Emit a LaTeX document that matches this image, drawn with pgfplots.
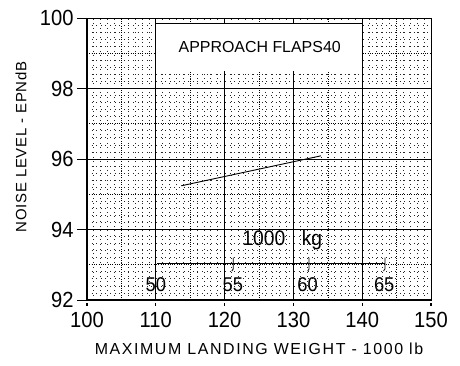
\documentclass[border=0pt]{standalone}
\usepackage{fontspec}
\setmainfont{Liberation Sans}
\newfontfamily\tickfont{Liberation Sans}[FakeStretch=0.92]
\usepackage{pgfplots}
\pgfplotsset{compat=1.18}
\begin{document}
\begin{tikzpicture}
\begin{axis}[
  width=344bp, height=282bp, scale only axis,
  xmin=100, xmax=150, ymin=92, ymax=100,
  clip=false,
  xtick={100,110,...,150}, ytick={92,94,...,100},
  minor x tick num=9, minor y tick num=9,
  extra x ticks={105,115,125,135,145}, extra x tick labels={},
  extra x tick style={grid=major, major grid style={black, line width=0.6bp, dash pattern=on 0.7bp off 1.6bp}, major tick length=0pt},
  extra y ticks={93,95,97,99}, extra y tick labels={},
  extra y tick style={grid=major, major grid style={black, line width=0.6bp, dash pattern=on 0.7bp off 1.6bp}, major tick length=0pt},
  grid=both,
  major grid style={black, line width=0.9bp},
  minor grid style={black!85, line width=0.8bp, dash pattern=on 0.8bp off 3.8bp},
  minor tick length=0pt,
  tick align=outside, tick pos=left,
  major tick length=10bp,
  xtick style={draw=none},
  ytick style={black, line width=0.8bp},
  axis line style={black, line width=0.9bp},
  /pgf/number format/assume math mode=true,
  ticklabel style={font=\tickfont\fontsize{22}{22}\selectfont},
  xticklabel style={yshift=1bp},
  xlabel={MAXIMUM LANDING WEIGHT - 1000 lb},
  xlabel style={font=\fontsize{16}{16}\selectfont\addfontfeature{LetterSpace=10}, at={([yshift=-49bp]rel axis cs:0.5,0)}, anchor=center},
  ylabel={NOISE LEVEL - EPNdB},
  ylabel style={font=\fontsize{15}{15}\selectfont\addfontfeature{LetterSpace=5}, at={([xshift=-66bp]rel axis cs:0,0.543)}, anchor=center},
]
\coordinate (SW) at (rel axis cs:0,0);
\coordinate (NE) at (rel axis cs:1,1);
% title box
\fill[white] (axis cs:110,98.5) rectangle (axis cs:140,99.84);
\draw[black, line width=0.9bp] (axis cs:110,99.84) -- (axis cs:140,99.84);
\draw[black, line width=0.9bp] (axis cs:110,98.5) -- (axis cs:110,100);
\draw[black, line width=0.9bp] (axis cs:140,98.5) -- (axis cs:140,100);
\draw[black, line width=0.9bp] (axis cs:120,99.84) -- (axis cs:120,100);
\draw[black, line width=0.9bp] (axis cs:130,99.84) -- (axis cs:130,100);
\node[font=\fontsize{16}{16}\selectfont] at (axis cs:125.1,99.18) {APPROACH FLAPS40};
% thick frame edges
\draw[black, line width=2.2bp] (rel axis cs:0,0) -- (rel axis cs:1,0);
\draw[black, line width=1.6bp] (rel axis cs:0,0) -- (rel axis cs:0,1);
% x tick dots below the axis
\draw[black, line width=1.3bp] ([yshift=-3bp]axis cs:100,92) -- ([yshift=-5.5bp]axis cs:100,92);
\draw[black, line width=1.3bp] ([yshift=-3bp]axis cs:110,92) -- ([yshift=-5.5bp]axis cs:110,92);
\draw[black, line width=1.3bp] ([yshift=-3bp]axis cs:120,92) -- ([yshift=-5.5bp]axis cs:120,92);
\draw[black, line width=1.3bp] ([yshift=-3bp]axis cs:130,92) -- ([yshift=-5.5bp]axis cs:130,92);
\draw[black, line width=1.3bp] ([yshift=-3bp]axis cs:140,92) -- ([yshift=-5.5bp]axis cs:140,92);
\draw[black, line width=1.3bp] ([yshift=-3bp]axis cs:150,92) -- ([yshift=-5.5bp]axis cs:150,92);
% data line
\addplot[black, line width=0.9bp] coordinates {(113.7,95.24) (134.0,96.09)};
% kg scale
\addplot[black, line width=0.8bp] coordinates {(110.23,93.05) (143.30,93.05)};
\addplot[black, line width=0.8bp] coordinates {(121.25,93.20) (121.25,92.88) (121.05,92.82)};
\addplot[black, line width=0.8bp] coordinates {(132.28,93.20) (132.28,92.88) (132.08,92.82)};
\addplot[black, line width=0.8bp] coordinates {(143.30,93.20) (143.30,92.88) (143.10,92.82)};
\node[font=\tickfont\fontsize{21}{21}\selectfont] at (axis cs:125.7,93.76) {1000};
\node[font=\tickfont\fontsize{21}{21}\selectfont] at (axis cs:132.7,93.70) {kg};
\node[font=\tickfont\fontsize{20}{20}\selectfont] at (axis cs:110.0,92.43) {50};
\node[font=\tickfont\fontsize{20}{20}\selectfont] at (axis cs:121.2,92.43) {55};
\node[font=\tickfont\fontsize{20}{20}\selectfont] at (axis cs:132.05,92.43) {60};
\node[font=\tickfont\fontsize{20}{20}\selectfont] at (axis cs:143.2,92.43) {65};
\end{axis}
\pgfresetboundingbox
\path ([shift={(-87bp,-65bp)}]SW) rectangle ([shift={(29bp,18bp)}]NE);
\end{tikzpicture}
\end{document}
